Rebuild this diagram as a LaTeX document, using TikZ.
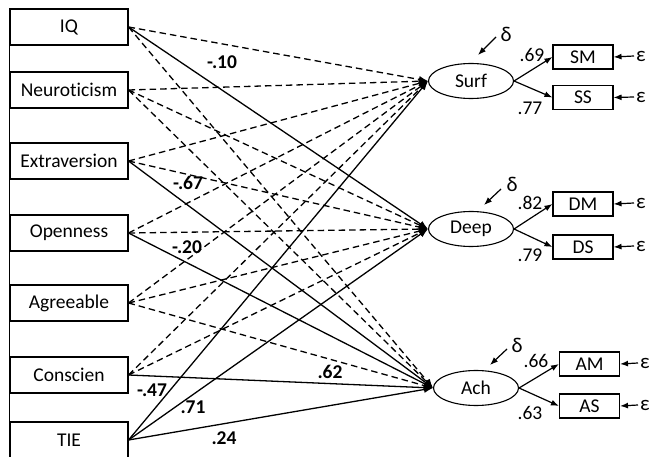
\documentclass[tikz,border=0pt]{standalone}
\usepackage{fontspec}
\setmainfont{Carlito}[Ligatures={NoCommon}]
\usetikzlibrary{arrows.meta,shapes.geometric}
\begin{document}
\begin{tikzpicture}[x=1pt,y=-1pt,
  font=\fontsize{19.5}{21}\selectfont,
  lbox/.style={draw,line width=1.1pt,minimum width=118pt,minimum height=36pt,inner sep=0pt},
  rbox/.style={draw,line width=1.1pt,minimum width=60pt,minimum height=24pt,inner sep=0pt},
  lat/.style={draw,line width=1.1pt,ellipse,minimum width=85pt,minimum height=35pt,inner sep=0pt},
  path/.style={line width=1.3pt,-{Latex[length=9pt,width=7pt]}},
  dpath/.style={path,dash pattern=on 6.5pt off 4pt},
  small/.style={-{Latex[length=8pt,width=6pt]},line width=1.2pt},
  coef/.style={font=\fontsize{19.5}{21}\selectfont\bfseries,inner sep=0pt},
  load/.style={inner sep=0pt},
  greek/.style={inner sep=1pt,font=\fontsize{21}{22}\selectfont},
]
\useasboundingbox (0,0) rectangle (649,457);
% left boxes
\node[lbox] (IQ) at (69,27) {IQ};
\node[lbox] (N) at (69,90) {Neuroticism};
\node[lbox] (E) at (69,161) {Extraversion};
\node[lbox] (O) at (69,233) {Openness};
\node[lbox] (A) at (69,303) {Agreeable};
\node[lbox] (C) at (69,375) {Conscien};
\node[lbox] (T) at (69,440) {TIE};
\draw[line width=1.1pt] (IQ.north west) -- (T.south west);
% latent
\node[lat] (S) at (471,81) {Surf};
\node[lat] (D) at (471,229) {Deep};
\node[lat] (H) at (476,388) {Ach};
% indicators
\node[rbox] (SM) at (583,57) {SM};
\node[rbox] (SS) at (583,97.5) {SS};
\node[rbox] (DM) at (583,204) {DM};
\node[rbox] (DS) at (583,247) {DS};
\node[rbox] (AM) at (589.5,364) {AM};
\node[rbox] (AS) at (589.5,406) {AS};
% structural paths
\draw[dpath] (IQ.east) -- (S.west);
\draw[path]  (IQ.east) -- (D.west);
\draw[dpath] (IQ.east) -- (H.west);
\draw[dpath] (N.east) -- (S.west);
\draw[dpath] (N.east) -- (D.west);
\draw[dpath] (N.east) -- (H.west);
\draw[dpath] (E.east) -- (S.west);
\draw[dpath] (E.east) -- (D.west);
\draw[path]  (E.east) -- (H.west);
\draw[dpath] (O.east) -- (S.west);
\draw[dpath] (O.east) -- (D.west);
\draw[path]  (O.east) -- (H.west);
\draw[dpath] (A.east) -- (S.west);
\draw[dpath] (A.east) -- (D.west);
\draw[dpath] (A.east) -- (H.west);
\draw[dpath] (C.east) -- (S.west);
\draw[dpath] (C.east) -- (D.west);
\draw[path]  (C.east) -- (H.west);
\draw[path]  (T.east) -- (S.west);
\draw[path]  (T.east) -- (D.west);
\draw[path]  (T.east) -- (H.west);
% coefficients
\node[coef] (c1) at (222,62) {-.10};
\node[coef] (c2) at (188,183) {-.67};
\node[coef] (c3) at (187,247) {-.20};
\node[coef] (c4) at (330,372) {.62};
\node[coef] (c5) at (152,390) {-.47};
\node[coef] (c6) at (193,407) {.71};
\node[coef] (c7) at (224,438) {.24};
% loadings
\draw[small] (S.east) -- (SM.west);
\draw[small] (S.east) -- (SS.west);
\draw[small] (D.east) -- (DM.west);
\draw[small] (D.east) -- (DS.west);
\draw[small] (H.east) -- (AM.west);
\draw[small] (H.east) -- (AS.west);
\node[load] (l1) at (532,55) {.69};
\node[load] (l2) at (530,108) {.77};
\node[load] (l3) at (530,203) {.82};
\node[load] (l4) at (530,255) {.79};
\node[load] (l5) at (536,361) {.66};
\node[load] (l6) at (530,413) {.63};
% disturbances
\node[greek] (d1) at (506,34) {δ};
\node[greek] (d2) at (512,184) {δ};
\node[greek] (d3) at (517,345) {δ};
\coordinate (d1s) at (496,37);
\coordinate (d1e) at (478,55);
\coordinate (d2s) at (501,189);
\coordinate (d2e) at (484,205);
\coordinate (d3s) at (507,349);
\coordinate (d3e) at (490,365);
\draw[small] (d1s) -- (d1e);
\draw[small] (d2s) -- (d2e);
\draw[small] (d3s) -- (d3e);
% errors
\node[greek,anchor=west] (e1) at (635,56) {ε};
\node[greek,anchor=west] (e2) at (635,97) {ε};
\node[greek,anchor=west] (e3) at (635,203) {ε};
\node[greek,anchor=west] (e4) at (635,246) {ε};
\node[greek,anchor=west] (e5) at (639,363) {ε};
\node[greek,anchor=west] (e6) at (639,405) {ε};
\draw[small] (e1.west) ++(-1,0) coordinate (e1s) (e1s) -- (SM.east);
\draw[small] (e2.west) ++(-1,0) coordinate (e2s) (e2s) -- (SS.east);
\draw[small] (e3.west) ++(-1,0) coordinate (e3s) (e3s) -- (DM.east);
\draw[small] (e4.west) ++(-1,0) coordinate (e4s) (e4s) -- (DS.east);
\draw[small] (e5.west) ++(-1,0) coordinate (e5s) (e5s) -- (AM.east);
\draw[small] (e6.west) ++(-1,0) coordinate (e6s) (e6s) -- (AS.east);
\end{tikzpicture}
\end{document}
